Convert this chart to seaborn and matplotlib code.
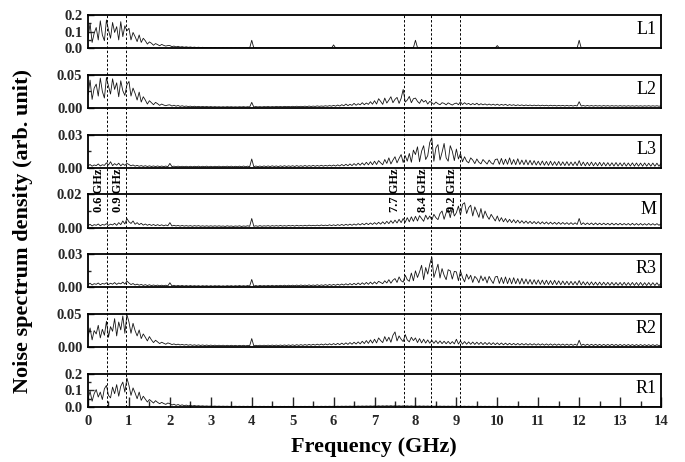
import numpy as np
import matplotlib
matplotlib.use("Agg")
import matplotlib.pyplot as plt
import matplotlib.transforms as mtransforms
from matplotlib.lines import Line2D
from matplotlib.ticker import FixedLocator
import seaborn as sns

sns.set_theme(style="ticks")
plt.rcParams.update({"axes.facecolor": "white", "figure.facecolor": "white",
                     "axes.edgecolor": "black", "axes.linewidth": 1.3,
                     "font.weight": "bold", "text.color": "black"})
plt.rcParams["font.family"] = ["Liberation Serif", "DejaVu Serif"]

# frequency grid (GHz) and spectra in units of 1e-4 (arb. unit)
FREQ_STEP = 0.05
freq = np.round(np.arange(0, 14 + FREQ_STEP / 2, FREQ_STEP), 2)
SCALE = 1e-4

L1 = [600, 1500, 350, 900, 1250, 500, 1650, 800, 450, 1700, 1100, 600, 1550, 950, 1300, 500, 1600, 700, 1350, 1050,
      1200, 500, 950, 700, 400, 800, 350, 600, 450, 250, 380, 300, 180, 280, 220, 150, 230, 170, 130, 160,
      160, 95, 130, 80, 115, 70, 95, 60, 85, 55, 75, 50, 65, 45, 60, 40, 55, 38, 50, 35,
      45, 30, 40, 28, 36, 25, 33, 24, 30, 22, 30, 20, 28, 22, 26, 18, 25, 20, 24, 18,
      480, 20, 24, 16, 22, 18, 20, 15, 22, 16, 20, 14, 18, 15, 20, 14, 18, 13, 17, 14,
      18, 13, 17, 12, 16, 14, 17, 12, 15, 13, 16, 12, 15, 13, 16, 12, 15, 14, 17, 13,
      200, 14, 18, 13, 17, 15, 19, 14, 18, 16, 20, 15, 19, 17, 22, 16, 21, 18, 24, 17,
      23, 18, 26, 20, 28, 21, 30, 22, 34, 24, 36, 26, 38, 30, 42, 32, 40, 30, 44, 33,
      480, 32, 40, 30, 38, 28, 36, 27, 34, 26, 33, 25, 32, 24, 30, 23, 29, 22, 28, 21,
      27, 20, 26, 19, 25, 18, 24, 18, 23, 17, 22, 16, 21, 16, 20, 15, 20, 15, 19, 14,
      160, 14, 18, 13, 17, 13, 16, 12, 16, 12, 15, 12, 15, 11, 15, 11, 14, 11, 14, 10,
      14, 10, 13, 10, 13, 9, 13, 10, 12, 9, 12, 9, 12, 9, 12, 9, 11, 9, 11, 8,
      480, 9, 11, 8, 11, 8, 11, 8, 10, 8, 10, 8, 10, 8, 10, 7, 10, 7, 10, 7,
      9, 7, 9, 7, 9, 7, 9, 7, 9, 7, 9, 7, 9, 7, 9, 7, 9, 7, 9, 7,
      8]

L2 = [200, 420, 130, 300, 360, 180, 450, 250, 150, 460, 330, 210, 440, 280, 380, 170, 410, 260, 190, 350,
      400, 180, 300, 220, 120, 240, 90, 170, 120, 60, 110, 80, 50, 85, 65, 40, 60, 45, 35, 45,
      48, 30, 42, 28, 38, 25, 34, 24, 30, 22, 28, 20, 27, 19, 25, 18, 24, 18, 23, 17,
      22, 16, 21, 16, 20, 15, 20, 15, 21, 16, 20, 15, 19, 15, 20, 16, 21, 15, 20, 16,
      85, 16, 22, 17, 21, 16, 22, 18, 23, 17, 22, 18, 24, 19, 23, 18, 25, 20, 24, 19,
      26, 20, 27, 21, 26, 22, 28, 21, 30, 23, 29, 24, 32, 25, 31, 26, 34, 27, 36, 28,
      40, 28, 45, 30, 50, 34, 60, 36, 55, 40, 70, 42, 65, 48, 80, 50, 75, 55, 95, 58,
      110, 60, 140, 100, 55, 150, 75, 120, 170, 80, 130, 160, 70, 145, 280, 90, 120, 175, 80, 140,
      150, 100, 70, 130, 90, 115, 60, 100, 80, 55, 90, 65, 50, 80, 70, 48, 78, 60, 45, 65,
      75, 50, 95, 52, 80, 55, 70, 48, 68, 50, 72, 46, 65, 48, 62, 45, 60, 44, 58, 42,
      58, 40, 55, 42, 56, 38, 52, 40, 50, 36, 48, 38, 47, 35, 46, 36, 45, 34, 44, 35,
      44, 33, 43, 34, 42, 32, 42, 33, 41, 31, 40, 32, 40, 30, 40, 31, 39, 30, 39, 31,
      95, 30, 38, 29, 38, 30, 37, 29, 37, 30, 36, 28, 37, 29, 36, 28, 36, 29, 35, 28,
      36, 28, 35, 27, 35, 28, 34, 27, 35, 28, 34, 27, 34, 28, 35, 27, 34, 28, 34, 27,
      33]

L3 = [18, 30, 15, 26, 20, 35, 17, 28, 22, 45, 25, 55, 20, 38, 24, 42, 18, 36, 22, 40,
      30, 18, 26, 15, 22, 14, 20, 13, 19, 12, 18, 12, 17, 11, 17, 11, 16, 11, 16, 10,
      40, 11, 15, 10, 15, 10, 14, 10, 14, 9, 14, 9, 14, 10, 15, 9, 14, 10, 15, 9,
      14, 9, 14, 10, 15, 9, 14, 10, 15, 10, 15, 9, 14, 10, 15, 10, 16, 10, 15, 10,
      80, 10, 16, 11, 16, 10, 17, 11, 17, 11, 18, 12, 17, 11, 18, 12, 19, 12, 18, 13,
      19, 12, 20, 13, 19, 13, 21, 13, 20, 14, 22, 14, 21, 15, 23, 15, 22, 16, 24, 16,
      25, 16, 27, 17, 30, 18, 32, 19, 35, 20, 38, 22, 42, 24, 45, 25, 50, 27, 55, 28,
      60, 30, 65, 45, 28, 75, 40, 90, 35, 70, 100, 45, 85, 120, 48, 110, 60, 130, 50, 160,
      120, 190, 55, 150, 200, 75, 110, 230, 270, 60, 180, 210, 70, 140, 220, 90, 60, 200, 150, 65,
      170, 80, 130, 55, 100, 60, 45, 90, 70, 38, 80, 50, 36, 75, 55, 34, 70, 45, 32, 75,
      80, 32, 85, 30, 78, 32, 90, 30, 75, 28, 82, 30, 70, 28, 72, 27, 68, 26, 65, 25,
      60, 24, 62, 23, 58, 22, 60, 22, 56, 21, 58, 21, 54, 20, 56, 20, 52, 20, 54, 19,
      65, 19, 52, 18, 50, 19, 52, 18, 48, 18, 50, 17, 48, 17, 47, 17, 46, 16, 48, 16,
      45, 16, 46, 15, 44, 16, 45, 15, 44, 15, 43, 15, 44, 15, 42, 15, 43, 14, 42, 14,
      40]

M = [12, 20, 10, 18, 14, 22, 11, 19, 15, 24, 13, 21, 16, 26, 14, 30, 18, 40, 22, 55,
     35, 25, 40, 20, 30, 18, 26, 15, 22, 14, 20, 13, 19, 12, 18, 12, 17, 11, 16, 11,
     30, 10, 14, 10, 13, 9, 13, 9, 12, 9, 12, 8, 12, 9, 12, 8, 11, 8, 11, 8,
     11, 8, 11, 8, 11, 8, 10, 7, 11, 8, 10, 7, 10, 8, 11, 7, 10, 8, 11, 8,
     55, 8, 11, 8, 12, 8, 11, 9, 12, 8, 12, 9, 12, 9, 13, 9, 12, 9, 13, 10,
     13, 9, 14, 10, 13, 10, 14, 10, 15, 11, 14, 11, 15, 11, 16, 12, 15, 12, 17, 12,
     17, 12, 18, 13, 19, 13, 20, 14, 21, 14, 22, 15, 24, 16, 25, 17, 27, 18, 28, 19,
     30, 20, 32, 21, 35, 22, 38, 24, 42, 26, 45, 28, 50, 30, 55, 32, 60, 35, 65, 38,
     68, 40, 72, 55, 38, 75, 50, 70, 45, 80, 60, 48, 85, 100, 50, 90, 110, 60, 120, 70,
     90, 130, 75, 140, 150, 85, 120, 135, 70, 125, 95, 62, 115, 55, 100, 70, 50, 80, 60, 40,
     70, 38, 60, 35, 55, 32, 50, 30, 48, 28, 45, 27, 42, 26, 40, 25, 38, 24, 37, 23,
     36, 22, 35, 22, 34, 21, 33, 21, 32, 20, 32, 20, 31, 20, 30, 19, 30, 19, 29, 19,
     55, 18, 29, 18, 28, 18, 28, 17, 28, 17, 27, 17, 27, 17, 26, 16, 27, 16, 26, 16,
     26, 16, 25, 16, 25, 15, 26, 15, 25, 15, 25, 15, 24, 15, 25, 15, 24, 15, 24, 14,
     23]

R3 = [25, 38, 22, 34, 28, 40, 24, 36, 30, 42, 26, 38, 29, 44, 27, 40, 32, 48, 30, 58,
      40, 26, 35, 22, 30, 20, 27, 18, 25, 17, 24, 16, 22, 16, 21, 15, 20, 15, 20, 14,
      42, 14, 19, 13, 18, 13, 18, 12, 17, 12, 17, 12, 16, 12, 16, 11, 16, 12, 16, 11,
      16, 11, 16, 12, 16, 11, 15, 11, 16, 12, 16, 11, 16, 12, 17, 12, 16, 12, 17, 12,
      72, 12, 17, 12, 18, 13, 17, 13, 18, 13, 19, 13, 18, 14, 19, 14, 20, 14, 20, 15,
      20, 15, 21, 15, 22, 16, 21, 16, 23, 16, 22, 17, 24, 17, 23, 18, 25, 18, 26, 19,
      27, 19, 29, 20, 31, 21, 33, 22, 35, 23, 37, 24, 40, 25, 42, 27, 45, 28, 48, 30,
      50, 32, 55, 45, 34, 60, 40, 70, 38, 65, 80, 45, 95, 60, 48, 110, 70, 55, 130, 60,
      150, 90, 140, 200, 70, 180, 120, 210, 275, 90, 150, 210, 85, 170, 110, 70, 160, 150, 75, 145,
      140, 60, 150, 90, 50, 120, 75, 110, 45, 100, 80, 42, 105, 60, 95, 40, 100, 65, 36, 95,
      100, 36, 90, 35, 95, 34, 85, 32, 88, 33, 80, 30, 82, 31, 76, 30, 72, 28, 70, 28,
      68, 27, 66, 26, 65, 26, 62, 25, 64, 25, 60, 24, 58, 24, 56, 23, 55, 23, 54, 22,
      62, 22, 52, 22, 50, 21, 50, 21, 48, 20, 48, 20, 47, 20, 46, 19, 46, 19, 45, 19,
      45, 18, 46, 18, 44, 18, 45, 18, 44, 17, 45, 17, 43, 17, 44, 17, 43, 17, 42, 16,
      40]

R2 = [160, 290, 110, 250, 200, 330, 140, 270, 180, 390, 150, 310, 240, 430, 170, 380, 260, 470, 210, 490,
      380, 210, 360, 250, 170, 260, 130, 200, 150, 95, 160, 110, 70, 105, 80, 55, 75, 60, 45, 65,
      55, 40, 50, 36, 46, 34, 42, 32, 40, 30, 38, 28, 36, 27, 35, 26, 34, 25, 33, 24,
      32, 23, 31, 22, 30, 22, 30, 21, 29, 21, 29, 21, 28, 20, 28, 21, 29, 20, 28, 21,
      130, 21, 29, 22, 30, 22, 30, 23, 31, 23, 32, 24, 32, 24, 33, 25, 34, 25, 35, 26,
      36, 26, 38, 27, 39, 28, 40, 29, 42, 30, 44, 31, 46, 32, 48, 33, 50, 35, 52, 36,
      55, 37, 58, 38, 62, 40, 66, 42, 70, 45, 75, 48, 80, 50, 90, 55, 100, 58, 110, 62,
      120, 65, 140, 100, 70, 160, 90, 150, 75, 180, 230, 95, 170, 120, 85, 190, 110, 80, 150, 100,
      140, 70, 130, 65, 120, 62, 110, 60, 105, 58, 100, 55, 95, 54, 90, 52, 88, 50, 85, 50,
      120, 48, 95, 46, 85, 45, 80, 44, 78, 42, 76, 42, 74, 40, 72, 40, 70, 39, 68, 38,
      66, 37, 64, 36, 62, 35, 60, 35, 58, 34, 57, 33, 56, 33, 55, 32, 54, 32, 53, 31,
      52, 31, 51, 30, 50, 30, 50, 29, 49, 29, 48, 29, 48, 28, 47, 28, 46, 28, 46, 27,
      105, 27, 45, 27, 45, 26, 44, 26, 44, 26, 43, 25, 43, 25, 42, 25, 44, 25, 42, 24,
      42, 24, 41, 24, 41, 24, 40, 23, 40, 23, 40, 23, 39, 23, 39, 22, 39, 22, 38, 22,
      37]

R1 = [500, 950, 350, 800, 1050, 600, 900, 450, 1100, 1300, 700, 550, 1200, 800, 1350, 650, 1250, 1500, 900, 1740,
      1300, 700, 1150, 850, 500, 900, 400, 650, 480, 300, 450, 350, 240, 380, 280, 200, 280, 210, 160, 240,
      200, 120, 170, 100, 150, 90, 130, 80, 115, 72, 100, 65, 90, 60, 80, 55, 72, 50, 65, 48,
      60, 45, 58, 42, 55, 40, 52, 40, 50, 38, 48, 38, 48, 36, 46, 36, 45, 35, 45, 35,
      44, 34, 44, 34, 43, 34, 43, 33, 42, 33, 42, 33, 42, 33, 41, 32, 41, 32, 41, 32,
      40, 32, 40, 32, 41, 33, 42, 33, 42, 34, 43, 34, 44, 35, 45, 35, 46, 36, 47, 37,
      48, 37, 50, 38, 52, 39, 54, 40, 56, 42, 58, 43, 60, 45, 62, 46, 64, 48, 66, 50,
      68, 50, 72, 52, 75, 54, 78, 55, 80, 56, 78, 55, 76, 54, 74, 52, 72, 50, 70, 48,
      68, 47, 66, 46, 64, 45, 62, 44, 60, 43, 58, 42, 56, 41, 55, 40, 54, 40, 53, 39,
      52, 38, 51, 38, 50, 37, 49, 37, 48, 36, 47, 36, 46, 35, 46, 35, 45, 34, 45, 34,
      44, 34, 44, 33, 43, 33, 43, 33, 42, 32, 42, 32, 42, 32, 41, 31, 41, 31, 41, 31,
      40, 31, 40, 30, 40, 30, 39, 30, 39, 30, 39, 29, 38, 29, 38, 29, 38, 29, 37, 28,
      37, 28, 37, 28, 36, 28, 36, 27, 36, 27, 35, 27, 35, 27, 35, 26, 34, 26, 34, 26,
      34, 26, 33, 26, 33, 25, 33, 25, 32, 25, 32, 25, 32, 24, 31, 24, 31, 24, 30, 24,
      30]

PANELS = ["L1", "L2", "L3", "M", "R3", "R2", "R1"]
SPECTRA = [L1, L2, L3, M, R3, R2, R1]
Y_MAX = [0.2, 0.05, 0.03, 0.02, 0.03, 0.05, 0.2]
Y_TICKS = [[0.0, 0.1, 0.2], [0.0, 0.05], [0.0, 0.03], [0.0, 0.02],
           [0.0, 0.03], [0.0, 0.05], [0.0, 0.1, 0.2]]
Y_MINOR = [[0.05, 0.15], [0.025], [0.015], [0.01], [0.015], [0.025], [0.05, 0.15]]
Y_FMT = ["{:.1f}", "{:.2f}", "{:.2f}", "{:.2f}", "{:.2f}", "{:.2f}", "{:.1f}"]

MARK_FREQS = [0.47, 0.94, 7.71, 8.39, 9.10]
MARK_LABELS = ["0.6 GHz", "0.9 GHz", "7.7 GHz", "8.4 GHz", "9.2 GHz"]

fig, axes = plt.subplots(7, 1, figsize=(6.85, 4.62), dpi=100, sharex=True)
fig.subplots_adjust(left=0.1285, right=0.965, top=0.9675, bottom=0.119, hspace=0.80)

for ax, name, spec, ymax, yt, ym, fmt in zip(axes, PANELS, SPECTRA, Y_MAX,
                                             Y_TICKS, Y_MINOR, Y_FMT):
    vals = np.array(spec) * SCALE
    sns.lineplot(x=freq, y=vals, ax=ax, color="#151515", linewidth=0.6,
                 errorbar=None)
    ax.set_xlim(0, 14)
    ax.set_ylim(0, ymax)
    ax.set_xlabel("")
    ax.set_ylabel("")
    ax.yaxis.set_major_locator(FixedLocator(yt))
    ax.yaxis.set_minor_locator(FixedLocator(ym))
    ax.set_yticklabels([fmt.format(v) for v in yt])
    ax.tick_params(axis="y", which="major", direction="in", length=4, width=1,
                   labelsize=10.5, pad=4)
    ax.tick_params(axis="y", which="minor", direction="in", length=2.5, width=1)
    ax.tick_params(axis="x", which="both", length=0, labelbottom=False)
    for sp in ax.spines.values():
        sp.set_visible(True)
        sp.set_linewidth(1.3)
    ax.text(0.993, 0.56, name, transform=ax.transAxes, ha="right", va="center",
            fontsize=13, fontweight="normal")

bottom = axes[-1]
bottom.set_xticks(np.arange(0, 15, 1))
bottom.set_xticks(np.arange(0.5, 14, 1), minor=True)
bottom.tick_params(axis="x", which="major", direction="in", length=7, width=1,
                   labelbottom=True, labelsize=10.5, pad=6)
bottom.tick_params(axis="x", which="minor", direction="in", length=4, width=1)
bottom.set_xticklabels([str(v) for v in range(15)])

# dashed marker lines through all panels
trans = mtransforms.blended_transform_factory(bottom.transData, fig.transFigure)
for f in MARK_FREQS:
    fig.add_artist(Line2D([f, f], [0.119, 0.9675], transform=trans, color="black",
                          linewidth=0.7, linestyle=(0, (2.5, 2))))

mid = axes[3]
lab_trans = mtransforms.offset_copy(
    mtransforms.blended_transform_factory(mid.transData, fig.transFigure),
    fig=fig, x=-1.5, units="points")
for f, lab in zip(MARK_FREQS, MARK_LABELS):
    mid.text(f, 0.588, lab, transform=lab_trans, rotation=90, ha="right",
             va="center", fontsize=9, fontweight="bold", zorder=5)

fig.text(0.034, 0.50, "Noise spectrum density (arb. unit)", rotation=90,
         ha="center", va="center", fontsize=16, fontweight="bold")
fig.text(0.546, 0.032, "Frequency (GHz)", ha="center", va="center",
         fontsize=16, fontweight="bold")

fig.savefig("out.png", dpi=100)
